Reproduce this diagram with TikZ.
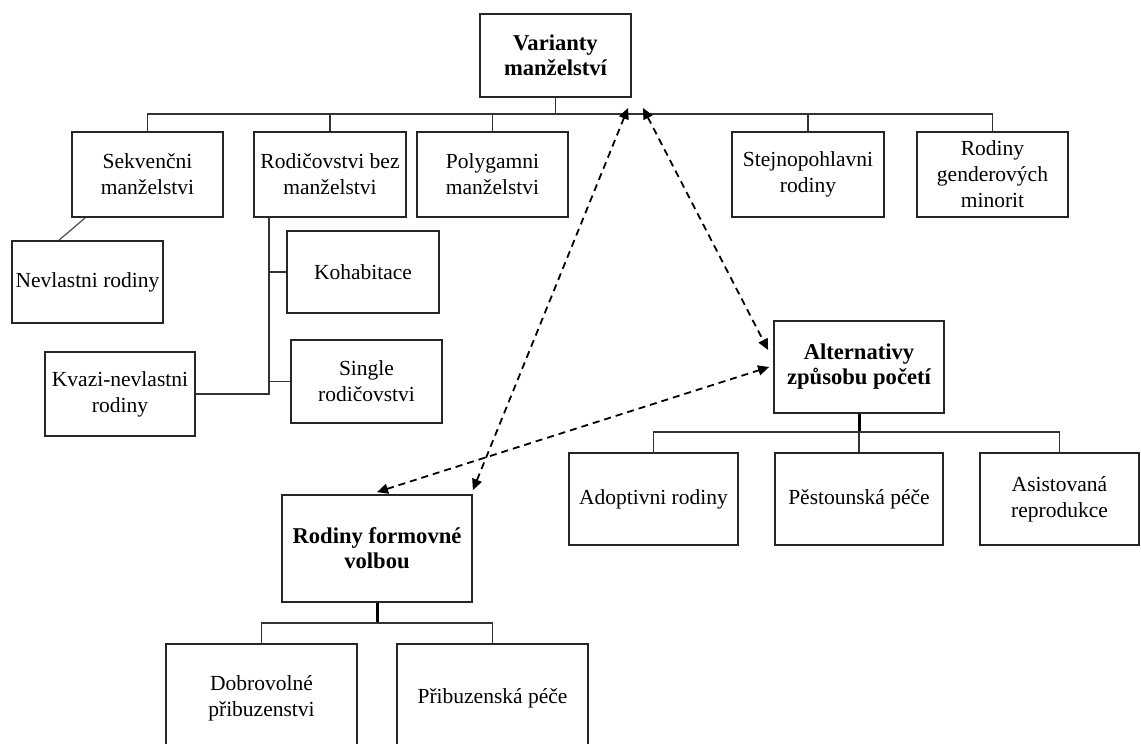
\documentclass[tikz,border=0pt]{standalone}
\usepackage{fontspec}
\setmainfont{Liberation Serif}
\usetikzlibrary{arrows.meta, calc}
\tikzset{
  every picture/.style={line width=1.8pt},
  box/.style={draw=black!85, fill=white, align=center, inner sep=2pt, minimum width=#1, minimum height=85pt, font=\fontsize{21.5}{26}\selectfont},
  box/.default=151pt,
  head/.style={box=#1, font=\bfseries\fontsize{22.6}{25}\selectfont},
  head/.default=151pt,
  link/.style={draw=black!80, line width=1.6pt},
  stem/.style={draw=black, line width=3pt},
  dual/.style={{Triangle[length=11pt,width=10pt]}-{Triangle[length=11pt,width=10pt]}, dash pattern=on 7pt off 5pt, line width=1.8pt},
}

\begin{document}
\begin{tikzpicture}[x=1pt, y=-1pt]
  \clip (0,0) rectangle (1141,744);
  \fill[white] (0,0) rectangle (1141,744);
  % top level
  \node[head, minimum height=83pt] (var) at (555.5,55.5) {Varianty\\manželství};
  \node[box] (sek) at (147.5,174.5) {Sekvenčni\\manželstvi};
  \node[box=152pt] (rod) at (330,174.5) {Rodičovstvi bez\\manželstvi};
  \node[box] (pol) at (492.5,174.5) {Polygamni\\manželstvi};
  \node[box=152pt] (stej) at (808,174.5) {Stejnopohlavni\\rodiny};
  \node[box] (gen) at (992.5,174.5) {Rodiny\\genderových\\minorit};
  \node[box, minimum height=82pt] (nev) at (87.5,282) {Nevlastni rodiny};
  \node[box=152pt, minimum height=82pt] (koh) at (363,272) {Kohabitace};
  \node[box, minimum height=83pt] (sin) at (366.5,381.5) {Single\\rodičovstvi};
  \node[box=150pt, minimum height=84pt] (kva) at (120,394) {Kvazi-nevlastni\\rodiny};
  % conception
  \node[head=170pt, minimum height=92pt] (alt) at (859,367) {Alternativy\\způsobu početí};
  \node[box=169pt, minimum height=92pt] (ado) at (653.5,499) {Adoptivni rodiny};
  \node[box=168pt, minimum height=92pt] (pes) at (859,499) {Pěstounská péče};
  \node[box=159pt, minimum height=92pt] (asi) at (1059.5,499) {Asistovaná\\reprodukce};
  % chosen families
  \node[head=190pt, minimum height=107pt] (rfv) at (377,548.5) {Rodiny formovné\\volbou};
  \node[box=191pt, minimum height=108pt] (dob) at (261.5,698) {Dobrovolné\\přibuzenstvi};
  \node[box=191pt, minimum height=108pt] (pri) at (492.5,698) {Přibuzenská péče};

  \coordinate (vbar) at (0,114);
  \coordinate (abar) at (0,432);
  \coordinate (rbar) at (0,623);
  \draw[link] (var.south) -- (var.south |- vbar);
  \draw[link] (sek.north) |- (gen.north |- vbar) -- (gen.north);
  \foreach \n in {rod, pol, stej}
    \draw[link] (\n.north) -- (\n.north |- vbar);
  \coordinate (rodx) at ([xshift=16pt]rod.south west);
  \draw[link] (rodx) |- (kva.east);
  \draw[link] (koh.west) -- (koh.west -| rodx);
  \draw[link] (sin.west) -- (sin.west -| rodx);
  \draw[link, draw=black!70, line width=1.2pt] ([xshift=14pt]sek.south west) -- ([xshift=48pt]nev.north west);

  \draw[stem] (alt.south) -- (alt.south |- abar);
  \draw[link] (ado.north) |- (asi.north |- abar) -- (asi.north);
  \draw[link] (pes.north) -- (pes.north |- abar);

  \draw[stem] (rfv.south) -- (rfv.south |- rbar);
  \draw[link] (dob.north) |- (pri.north |- rbar) -- (pri.north);

  % dashed links
  \coordinate (tipl) at (628,108);
  \coordinate (tipr) at (643,108);
  \draw[dual] (tipl) -- ([yshift=4pt]rfv.north east);
  \draw[dual] (tipr) -- ([xshift=-5pt,yshift=17pt]alt.west);
  \draw[dual] ([yshift=2pt]rfv.north) -- ([xshift=-4pt]alt.west);
\end{tikzpicture}
\end{document}
